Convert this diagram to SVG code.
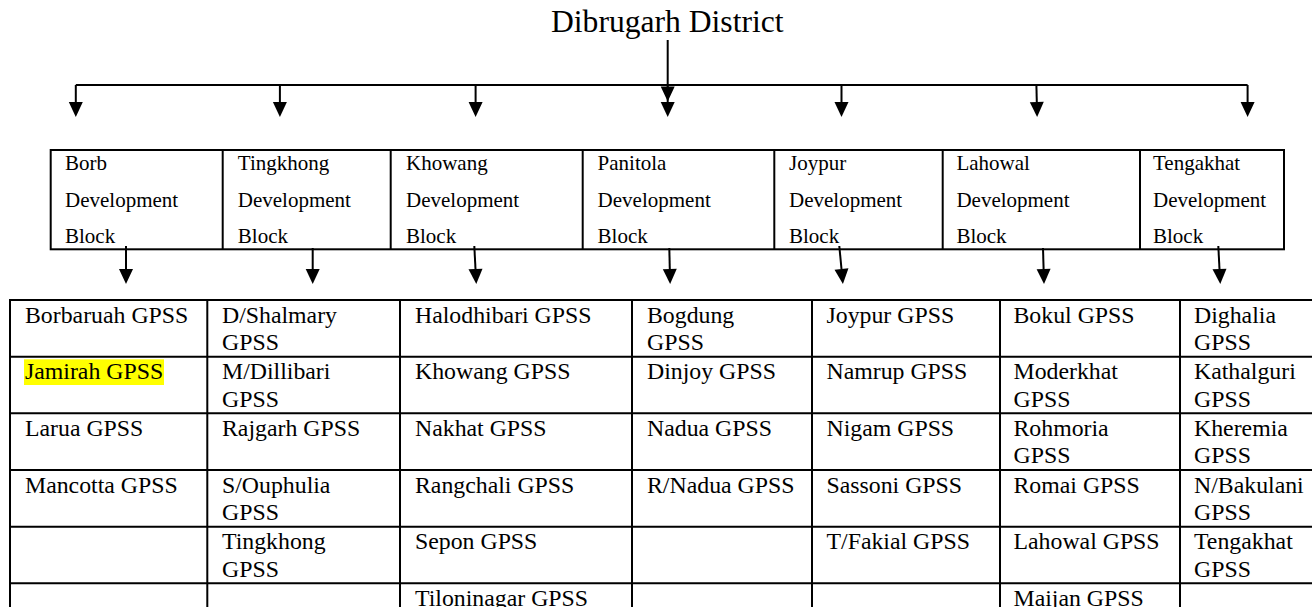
<svg xmlns="http://www.w3.org/2000/svg" width="1312" height="607" viewBox="0 0 1312 607">
<style>
text{font-family:"Liberation Serif","Times New Roman",serif;fill:#000}
.title{font-size:31.6px}
.blk{font-size:21px}
.cell{font-size:23.8px}
.box{fill:none;stroke:#000;stroke-width:2}
.grid{stroke:#000;stroke-width:2;fill:none}
.conn{stroke:#000;stroke-width:2;fill:none}
.arr{stroke:#000;stroke-width:2;fill:none;marker-end:url(#ah)}
.hl{fill:#ffff00}
</style>
<defs>
<marker id="ah" markerUnits="userSpaceOnUse" markerWidth="16" markerHeight="16" refX="0" refY="7" orient="auto" overflow="visible">
<path d="M0,0 L15,7 L0,14 z" fill="#000"/>
</marker>
</defs>
<rect width="1312" height="607" fill="#fff"/>

<g id="district">
<text class="title" x="551" y="32">Dibrugarh District</text>
</g>

<g id="connectors">
<line class="arr" x1="667.7" y1="40" x2="667.7" y2="86.5"/>
<polyline class="conn" points="75.8,85 1247.6,85"/>
<line class="arr" x1="75.8" y1="85" x2="75.8" y2="102"/>
<line class="arr" x1="279.9" y1="85" x2="279.9" y2="102"/>
<line class="arr" x1="475.6" y1="85" x2="475.6" y2="102"/>
<line class="arr" x1="667.7" y1="85" x2="667.7" y2="102"/>
<line class="arr" x1="841.5" y1="85" x2="841.5" y2="102"/>
<line class="arr" x1="1036.4" y1="85" x2="1036.8" y2="102"/>
<line class="arr" x1="1247.6" y1="85" x2="1247.6" y2="102"/>
<line class="arr" x1="126" y1="246" x2="126" y2="269"/>
<line class="arr" x1="312.7" y1="248" x2="312.7" y2="269"/>
<line class="arr" x1="474.3" y1="246" x2="475.5" y2="269"/>
<line class="arr" x1="669.3" y1="248" x2="669.8" y2="269"/>
<line class="arr" x1="839.3" y1="246" x2="841.5" y2="269"/>
<line class="arr" x1="1043" y1="248" x2="1043.6" y2="269"/>
<line class="arr" x1="1218.3" y1="246" x2="1219.5" y2="269"/>
</g>

<g id="blocks">
<rect class="box" x="50.7" y="150" width="1233.3" height="99.3"/>
<g id="block-borb">
<text class="blk" x="65" y="170">Borb</text><text class="blk" x="65" y="206.7">Development</text><text class="blk" x="65" y="243.3">Block</text>
</g>
<g id="block-tingkhong">
<line class="grid" x1="222.7" y1="150" x2="222.7" y2="249.3"/>
<text class="blk" x="237.8" y="170">Tingkhong</text><text class="blk" x="237.8" y="206.7">Development</text><text class="blk" x="237.8" y="243.3">Block</text>
</g>
<g id="block-khowang">
<line class="grid" x1="390.7" y1="150" x2="390.7" y2="249.3"/>
<text class="blk" x="406" y="170">Khowang</text><text class="blk" x="406" y="206.7">Development</text><text class="blk" x="406" y="243.3">Block</text>
</g>
<g id="block-panitola">
<line class="grid" x1="582.7" y1="150" x2="582.7" y2="249.3"/>
<text class="blk" x="597.6" y="170">Panitola</text><text class="blk" x="597.6" y="206.7">Development</text><text class="blk" x="597.6" y="243.3">Block</text>
</g>
<g id="block-joypur">
<line class="grid" x1="774.3" y1="150" x2="774.3" y2="249.3"/>
<text class="blk" x="789" y="170">Joypur</text><text class="blk" x="789" y="206.7">Development</text><text class="blk" x="789" y="243.3">Block</text>
</g>
<g id="block-lahowal">
<line class="grid" x1="942.7" y1="150" x2="942.7" y2="249.3"/>
<text class="blk" x="956.4" y="170">Lahowal</text><text class="blk" x="956.4" y="206.7">Development</text><text class="blk" x="956.4" y="243.3">Block</text>
</g>
<g id="block-tengakhat">
<line class="grid" x1="1140" y1="150" x2="1140" y2="249.3"/>
<text class="blk" x="1153" y="170">Tengakhat</text><text class="blk" x="1153" y="206.7">Development</text><text class="blk" x="1153" y="243.3">Block</text>
</g>
</g>

<g id="table-grid">
<path class="grid" d="M10,300 H1320 M10,356.7 H1320 M10,413.3 H1320 M10,470 H1320 M10,526.7 H1320 M10,583.3 H1320 M10,299 V620 M207.3,300 V620 M400,300 V620 M632,300 V620 M812,300 V620 M1000,300 V620 M1180,300 V620"/>
</g>

<g id="col-borb">
<text class="cell" x="25" y="322.7">Borbaruah GPSS</text>
<rect class="hl" x="24" y="359.3" width="140" height="25.7"/>
<text class="cell" x="25" y="379.3">Jamirah GPSS</text>
<text class="cell" x="25" y="436">Larua GPSS</text>
<text class="cell" x="25" y="492.7">Mancotta GPSS</text>
</g>

<g id="col-tingkhong">
<text class="cell" x="222" y="322.7">D/Shalmary</text><text class="cell" x="222" y="350">GPSS</text>
<text class="cell" x="222" y="379.3">M/Dillibari</text><text class="cell" x="222" y="406.7">GPSS</text>
<text class="cell" x="222" y="436">Rajgarh GPSS</text>
<text class="cell" x="222" y="492.7">S/Ouphulia</text><text class="cell" x="222" y="520">GPSS</text>
<text class="cell" x="222" y="549.3">Tingkhong</text><text class="cell" x="222" y="576.7">GPSS</text>
</g>

<g id="col-khowang">
<text class="cell" x="415" y="322.7">Halodhibari GPSS</text>
<text class="cell" x="415" y="379.3">Khowang GPSS</text>
<text class="cell" x="415" y="436">Nakhat GPSS</text>
<text class="cell" x="415" y="492.7">Rangchali GPSS</text>
<text class="cell" x="415" y="549.3">Sepon GPSS</text>
<text class="cell" x="415" y="606">Tiloninagar GPSS</text>
</g>

<g id="col-panitola">
<text class="cell" x="647" y="322.7">Bogdung</text><text class="cell" x="647" y="350">GPSS</text>
<text class="cell" x="647" y="379.3">Dinjoy GPSS</text>
<text class="cell" x="647" y="436">Nadua GPSS</text>
<text class="cell" x="647" y="492.7">R/Nadua GPSS</text>
</g>

<g id="col-joypur">
<text class="cell" x="826.5" y="322.7">Joypur GPSS</text>
<text class="cell" x="826.5" y="379.3">Namrup GPSS</text>
<text class="cell" x="826.5" y="436">Nigam GPSS</text>
<text class="cell" x="826.5" y="492.7">Sassoni GPSS</text>
<text class="cell" x="826.5" y="549.3">T/Fakial GPSS</text>
</g>

<g id="col-lahowal">
<text class="cell" x="1013.5" y="322.7">Bokul GPSS</text>
<text class="cell" x="1013.5" y="379.3">Moderkhat</text><text class="cell" x="1013.5" y="406.7">GPSS</text>
<text class="cell" x="1013.5" y="436">Rohmoria</text><text class="cell" x="1013.5" y="463.3">GPSS</text>
<text class="cell" x="1013.5" y="492.7">Romai GPSS</text>
<text class="cell" x="1013.5" y="549.3">Lahowal GPSS</text>
<text class="cell" x="1013.5" y="606">Maijan GPSS</text>
</g>

<g id="col-tengakhat">
<text class="cell" x="1194" y="322.7">Dighalia</text><text class="cell" x="1194" y="350">GPSS</text>
<text class="cell" x="1194" y="379.3">Kathalguri</text><text class="cell" x="1194" y="406.7">GPSS</text>
<text class="cell" x="1194" y="436">Kheremia</text><text class="cell" x="1194" y="463.3">GPSS</text>
<text class="cell" x="1194" y="492.7">N/Bakulani</text><text class="cell" x="1194" y="520">GPSS</text>
<text class="cell" x="1194" y="549.3">Tengakhat</text><text class="cell" x="1194" y="576.7">GPSS</text>
</g>
</svg>
